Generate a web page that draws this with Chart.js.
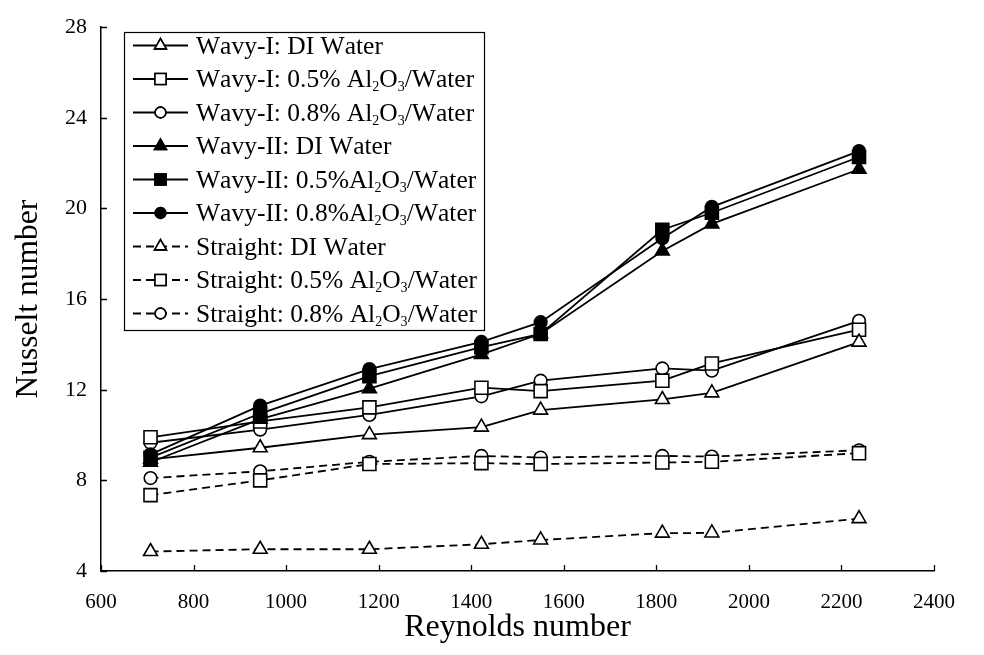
<!DOCTYPE html>
<html>
<head>
<meta charset="utf-8">
<script src="https://cdn.jsdelivr.net/npm/chart.js@4.4.1/dist/chart.umd.min.js"></script>
<style>
  html, body { margin: 0; padding: 0; background: #fff; }
  #wrap { width: 984px; height: 655px; }
</style>
</head>
<body>
<div id="wrap"><canvas id="nuChart" width="984" height="655"></canvas></div>
<script>
// Reynolds numbers and Nusselt numbers for each channel / fluid
const reynolds = [707, 944, 1180, 1422, 1550, 1813, 1920, 2238];

const wavyIDI  = [8.93, 9.44, 10.02, 10.35, 11.10, 11.57, 11.86, 14.10];
const wavyI05  = [9.90, 10.60, 11.22, 12.09, 11.94, 12.40, 13.16, 14.65];
const wavyI08  = [9.66, 10.24, 10.89, 11.71, 12.40, 12.94, 12.84, 15.04];
const wavyIIDI = [8.80, 10.70, 12.05, 13.56, 14.47, 18.12, 19.32, 21.73];
const wavyII05 = [9.00, 10.95, 12.60, 13.88, 14.46, 19.06, 19.81, 22.27];
const wavyII08 = [9.15, 11.30, 12.91, 14.11, 14.98, 18.69, 20.07, 22.53];
const straightDI = [4.86, 4.96, 4.96, 5.18, 5.37, 5.67, 5.68, 6.31];
const straight05 = [7.35, 8.00, 8.72, 8.76, 8.72, 8.79, 8.82, 9.20];
const straight08 = [8.10, 8.40, 8.82, 9.08, 9.01, 9.08, 9.05, 9.33];

const xTicks = [600, 800, 1000, 1200, 1400, 1600, 1800, 2000, 2200, 2400];
const yTicks = [4, 8, 12, 16, 20, 24, 28];

const FONT = "'Liberation Serif', 'Times New Roman', serif";

const markerSize = { triangle: 8, rect: 9.2, circle: 6.3 };

function series(label, values, shape, filled, dashed, order) {
    return {
        label: label,
        data: reynolds.map((re, i) => ({ x: re, y: values[i] })),
        borderColor: '#000',
        borderWidth: 1.8,
        borderDash: dashed ? [8, 5] : [],
        pointStyle: shape,
        pointRadius: markerSize[shape],
        pointHoverRadius: markerSize[shape],
        pointBorderWidth: 1.6,
        pointBackgroundColor: filled ? '#000' : '#fff',
        pointBorderColor: '#000',
        fill: false,
        tension: 0,
        order: order
    };
}

const datasets = [
    series('Wavy-I: DI Water', wavyIDI, 'triangle', false, false, 5),
    series('Wavy-I: 0.5% Al\u2082O\u2083/Water', wavyI05, 'rect', false, false, 5),
    series('Wavy-I: 0.8% Al\u2082O\u2083/Water', wavyI08, 'circle', false, false, 5),
    series('Wavy-II: DI Water', wavyIIDI, 'triangle', true, false, 1),
    series('Wavy-II: 0.5%Al\u2082O\u2083/Water', wavyII05, 'rect', true, false, 1),
    series('Wavy-II: 0.8%Al\u2082O\u2083/Water', wavyII08, 'circle', true, false, 1),
    series('Straight: DI Water', straightDI, 'triangle', false, true, 8),
    series('Straight: 0.5% Al\u2082O\u2083/Water', straight05, 'rect', false, true, 8),
    series('Straight: 0.8% Al\u2082O\u2083/Water', straight08, 'circle', false, true, 8)
];

// short tick marks pointing into the plot area
const innerTicks = {
    id: 'innerTicks',
    afterDraw(chart) {
        const ctx = chart.ctx;
        const xs = chart.scales.x, ys = chart.scales.y;
        ctx.save();
        ctx.strokeStyle = '#000';
        ctx.lineWidth = 1.3;
        ctx.beginPath();
        xTicks.forEach(v => {
            const px = Math.round(xs.getPixelForValue(v)) + 0.5;
            ctx.moveTo(px, ys.bottom);
            ctx.lineTo(px, ys.bottom - 6);
        });
        yTicks.forEach(v => {
            const py = Math.round(ys.getPixelForValue(v)) + 0.5;
            ctx.moveTo(xs.left, py);
            ctx.lineTo(xs.left + 6, py);
        });
        ctx.stroke();
        ctx.restore();
    }
};

// write a label, drawing subscript digits smaller and lower
const SUBS = { '\u2082': '2', '\u2083': '3' };
function drawRichText(ctx, text, x, y, size) {
    let cx = x;
    for (const ch of text) {
        if (SUBS[ch]) {
            ctx.font = (size * 0.55) + 'px ' + FONT;
            ctx.fillText(SUBS[ch], cx, y + size * 0.16);
            cx += ctx.measureText(SUBS[ch]).width;
        } else {
            ctx.font = size + 'px ' + FONT;
            ctx.fillText(ch, cx, y);
            cx += ctx.measureText(ch).width;
        }
    }
}

// boxed legend in the upper left of the plot
const boxLegend = {
    id: 'boxLegend',
    afterDraw(chart) {
        const ctx = chart.ctx;
        const left = 124.5, top = 32.5, w = 360, h = 298;
        const rowH = 33.5;
        ctx.save();
        ctx.fillStyle = '#fff';
        ctx.fillRect(left, top, w, h);
        ctx.strokeStyle = '#000';
        ctx.lineWidth = 1.2;
        ctx.strokeRect(left, top, w, h);
        ctx.textBaseline = 'alphabetic';
        chart.data.datasets.forEach((ds, i) => {
            const cy = top + 13 + rowH * i;
            ctx.strokeStyle = '#000';
            ctx.lineWidth = ds.borderWidth;
            ctx.setLineDash(ds.borderDash);
            ctx.beginPath();
            ctx.moveTo(133, cy);
            ctx.lineTo(188, cy);
            ctx.stroke();
            ctx.setLineDash([]);
            ctx.fillStyle = ds.pointBackgroundColor;
            ctx.lineWidth = ds.pointBorderWidth;
            Chart.helpers.drawPoint(ctx, {
                pointStyle: ds.pointStyle,
                radius: ds.pointRadius * 0.85,
                rotation: 0,
                borderWidth: ds.pointBorderWidth
            }, 160.5, cy);
            ctx.fill();
            ctx.stroke();
            ctx.fillStyle = '#000';
            drawRichText(ctx, ds.label, 196, cy + 8, 25.5);
        });
        ctx.restore();
    }
};

const ctx = document.getElementById('nuChart').getContext('2d');
const nuChart = new Chart(ctx, {
    type: 'line',
    data: { datasets: datasets },
    options: {
        responsive: false,
        animation: false,
        events: [],
        layout: { padding: { left: 0, top: 17, right: 50, bottom: 0 } },
        plugins: {
            legend: { display: false },
            tooltip: { enabled: false }
        },
        scales: {
            x: {
                type: 'linear',
                min: 600,
                max: 2400,
                afterBuildTicks: s => { s.ticks = xTicks.map(v => ({ value: v })); },
                afterFit: s => { s.height = 84; },
                grid: { display: false, drawTicks: false },
                border: { display: true, color: '#000', width: 1.5 },
                ticks: {
                    color: '#000',
                    font: { family: FONT, size: 21 },
                    padding: 19,
                    maxRotation: 0,
                    callback: v => String(v)
                },
                title: {
                    display: true,
                    text: 'Reynolds number',
                    color: '#000',
                    font: { family: FONT, size: 32 },
                    padding: { top: 0, bottom: 8 }
                }
            },
            y: {
                type: 'linear',
                min: 4,
                max: 28,
                afterBuildTicks: s => { s.ticks = yTicks.map(v => ({ value: v })); },
                afterFit: s => { s.width = 101; },
                grid: { display: false, drawTicks: false },
                border: { display: true, color: '#000', width: 1.5 },
                ticks: {
                    color: '#000',
                    font: { family: FONT, size: 22 },
                    padding: 14
                },
                title: {
                    display: true,
                    text: 'Nusselt number',
                    color: '#000',
                    font: { family: FONT, size: 31.5 },
                    padding: { top: 10, bottom: 0 }
                }
            }
        }
    },
    plugins: [innerTicks, boxLegend]
});
</script>
</body>
</html>
